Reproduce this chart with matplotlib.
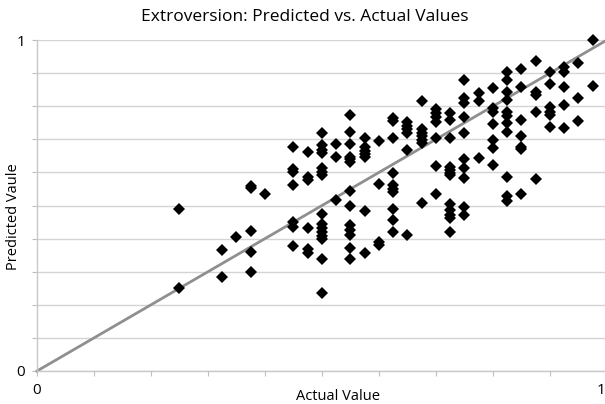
import matplotlib
matplotlib.use("Agg")
import matplotlib.pyplot as plt
import matplotlib.transforms as mtransforms
import numpy as np

plt.rcParams['font.family'] = ['Open Sans', 'DejaVu Sans']

# actual / predicted pairs
actual = [0.25, 0.25,
          0.325, 0.325,
          0.35,
          0.375, 0.375, 0.375, 0.375, 0.375,
          0.4,
          0.45, 0.45, 0.45, 0.45, 0.45, 0.45, 0.45,
          0.475, 0.475, 0.475, 0.475, 0.475, 0.475,
          0.5, 0.5, 0.5, 0.5, 0.5, 0.5, 0.5, 0.5, 0.5, 0.5, 0.5, 0.5, 0.5, 0.5, 0.5,
          0.525, 0.525, 0.525,
          0.55, 0.55, 0.55, 0.55, 0.55, 0.55, 0.55, 0.55, 0.55, 0.55, 0.55, 0.55, 0.55,
          0.575, 0.575, 0.575, 0.575, 0.575, 0.575, 0.575,
          0.6, 0.6, 0.6, 0.6,
          0.625, 0.625, 0.625, 0.625, 0.625, 0.625, 0.625, 0.625, 0.625, 0.625,
          0.65, 0.65, 0.65, 0.65, 0.65, 0.65,
          0.675, 0.675, 0.675, 0.675, 0.675, 0.675, 0.675,
          0.7, 0.7, 0.7, 0.7, 0.7, 0.7, 0.7,
          0.725, 0.725, 0.725, 0.725, 0.725, 0.725, 0.725, 0.725, 0.725, 0.725, 0.725, 0.725,
          0.75, 0.75, 0.75, 0.75, 0.75, 0.75, 0.75, 0.75, 0.75, 0.75,
          0.775, 0.775, 0.775,
          0.8, 0.8, 0.8, 0.8, 0.8, 0.8, 0.8,
          0.825, 0.825, 0.825, 0.825, 0.825, 0.825, 0.825, 0.825, 0.825, 0.825, 0.825,
          0.85, 0.85, 0.85, 0.85, 0.85, 0.85, 0.85,
          0.875, 0.875, 0.875, 0.875, 0.875,
          0.9, 0.9, 0.9, 0.9, 0.9, 0.9,
          0.925, 0.925, 0.925, 0.925, 0.925,
          0.95, 0.95, 0.95,
          0.975, 0.975]

predicted = [0.489, 0.252,
             0.366, 0.283,
             0.406,
             0.559, 0.553, 0.424, 0.359, 0.300,
             0.534,
             0.676, 0.611, 0.602, 0.562, 0.450, 0.435, 0.377,
             0.661, 0.585, 0.577, 0.431, 0.368, 0.356,
             0.720, 0.683, 0.668, 0.658, 0.612, 0.602, 0.592, 0.474, 0.443, 0.433, 0.421, 0.408, 0.398, 0.337, 0.237,
             0.685, 0.647, 0.517,
             0.773, 0.721, 0.686, 0.648, 0.640, 0.630, 0.545, 0.498, 0.441, 0.426, 0.411, 0.371, 0.337,
             0.705, 0.676, 0.666, 0.656, 0.647, 0.484, 0.356,
             0.695, 0.564, 0.391, 0.380,
             0.763, 0.756, 0.705, 0.597, 0.562, 0.551, 0.541, 0.488, 0.456, 0.421,
             0.751, 0.741, 0.731, 0.718, 0.668, 0.411,
             0.816, 0.731, 0.720, 0.710, 0.698, 0.688, 0.508,
             0.793, 0.780, 0.768, 0.753, 0.705, 0.619, 0.534,
             0.779, 0.758, 0.703, 0.615, 0.607, 0.599, 0.592, 0.505, 0.486, 0.471, 0.461, 0.419,
             0.879, 0.826, 0.810, 0.768, 0.720, 0.640, 0.612, 0.582, 0.496, 0.471,
             0.839, 0.817, 0.644,
             0.854, 0.794, 0.783, 0.745, 0.698, 0.673, 0.622,
             0.904, 0.879, 0.844, 0.819, 0.783, 0.770, 0.748, 0.723, 0.587, 0.528, 0.513,
             0.911, 0.859, 0.758, 0.710, 0.678, 0.670, 0.534,
             0.937, 0.844, 0.834, 0.783, 0.579,
             0.904, 0.867, 0.797, 0.783, 0.773, 0.738,
             0.919, 0.904, 0.857, 0.804, 0.733,
             0.931, 0.826, 0.756,
             1.0, 0.861]

ref_line = [0, 1]
tick_labels = ['0', '1']

fig = plt.figure(figsize=(6.05, 4.04), dpi=100)
# axes box in pixels: x 37..607, y 40..371 from the top
ax = fig.add_axes([37 / 605, 33 / 404, 570 / 605, 331 / 404])

grid_c = '#d4d4d4'
ax.set_xlim(0, 1)
ax.set_ylim(0, 1)
ax.set_yticks(np.arange(0, 1.01, 0.1))
ax.set_xticks(np.arange(0, 1.01, 0.1))
ax.yaxis.grid(True, color=grid_c, linewidth=1)
ax.set_axisbelow(True)

ax.set_xticklabels([tick_labels[0]] + [''] * 9 + [tick_labels[1]])
ax.set_yticklabels([tick_labels[0]] + [''] * 9 + [tick_labels[1]])
ax.tick_params(axis='both', direction='out', length=3.6, color='#bfbfbf',
               labelsize=11, labelcolor='black')
ax.tick_params(axis='x', pad=5)
ax.tick_params(axis='y', pad=5)
# pull the right "1" label back inside the picture
lab = ax.get_xticklabels()[-1]
lab.set_transform(lab.get_transform() + mtransforms.ScaledTranslation(-6 / 100, 0, fig.dpi_scale_trans))

for s in ['top', 'right']:
    ax.spines[s].set_visible(False)
for s in ['left', 'bottom']:
    ax.spines[s].set_color('#c8c8c8')
    ax.spines[s].set_linewidth(1)

ax.plot(ref_line, ref_line, color='#8f8f8f', linewidth=2, zorder=2, clip_on=False)
ax.plot(actual, predicted, linestyle='none', marker='D', markersize=5.8,
        color='black', markeredgewidth=0, zorder=3, clip_on=False)

fig.text(305 / 605, 1 - 17 / 404, 'Extroversion: Predicted vs. Actual Values',
         ha='center', va='center', fontsize=12.5)
fig.text(338 / 605, 1 - 396 / 404, 'Actual Value', ha='center', va='center', fontsize=10.5)
fig.text(14 / 605, 1 - 217 / 404, 'Predicted Vaule', ha='center', va='center',
         rotation=90, fontsize=10.5)

fig.savefig('out.png', dpi=100)
